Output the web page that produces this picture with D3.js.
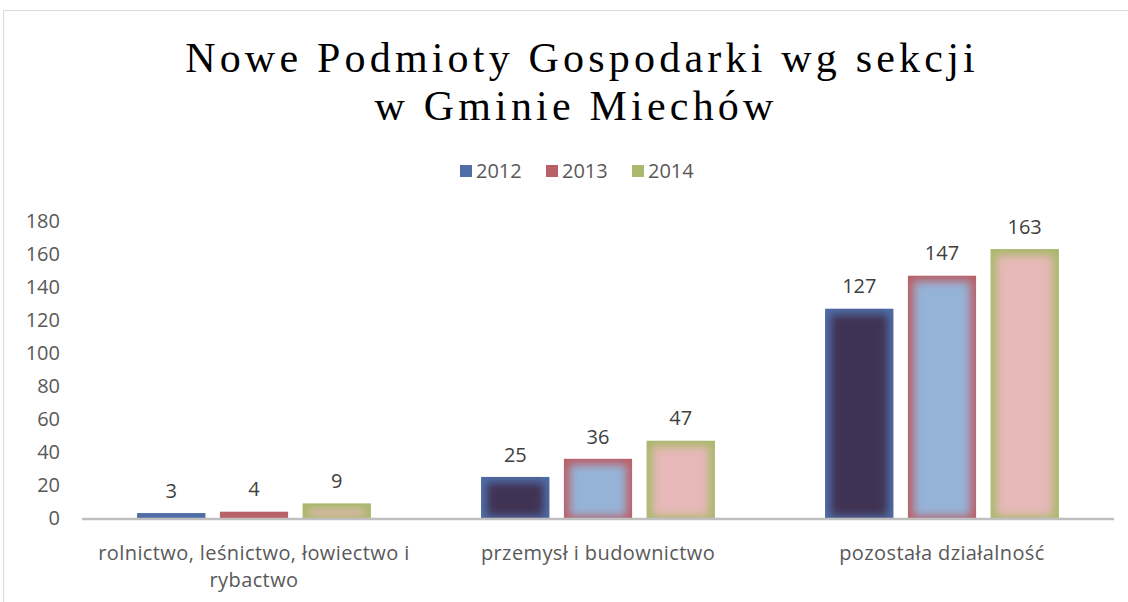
<!DOCTYPE html>
<html>
<head>
<meta charset="utf-8">
<script src="https://cdn.jsdelivr.net/npm/d3@7"></script>
<style>
  body { margin: 0; background: #fff; }
  svg text { font-family: "Open Sans", "Noto Sans", sans-serif; }
</style>
</head>
<body>
<svg id="chart" width="1128" height="602"></svg>
<script>
// dane
const categories = ["rolnictwo, leśnictwo, łowiectwo i rybactwo", "przemysł i budownictwo", "pozostała działalność"];
const categoryLines = [["rolnictwo, leśnictwo, łowiectwo i", "rybactwo"], ["przemysł i budownictwo"], ["pozostała działalność"]];
const years = ["2012", "2013", "2014"];
const values2012 = [3, 25, 127];
const values2013 = [4, 36, 147];
const values2014 = [9, 47, 163];
const yTicks = [0, 20, 40, 60, 80, 100, 120, 140, 160, 180];

// kolory: krawedz (legenda) + wnetrze slupka
const edgeColors = ["#4F6EA8", "#BA6068", "#A9B86C"];
const innerColors = ["#3F3152", "#95B3D7", "#E6B8B7"];

const series = [values2012, values2013, values2014];

const fontSize = '20px';
const labelFont = '"Open Sans", "Noto Sans", sans-serif';

const margin = { top: 221, right: 14, bottom: 84, left: 82 };
const width = 1128 - margin.left - margin.right;
const height = 602 - margin.top - margin.bottom;

const svg = d3.select('#chart');

// ramka wykresu
svg.append('rect')
  .attr('x', 3.5).attr('y', 10.5)
  .attr('width', 1140).attr('height', 600)
  .attr('fill', 'none')
  .attr('stroke', '#D9D9D9')
  .attr('stroke-width', 1);

// tytul
const title = svg.append('text')
  .attr('text-anchor', 'middle')
  .style('font-family', '"Liberation Serif", "Times New Roman", serif')
  .style('font-size', '42px')
  .style('letter-spacing', '4.2px')
  .attr('fill', '#000');
title.append('tspan').attr('x', 582).attr('y', 72).text('Nowe Podmioty Gospodarki wg sekcji');
title.append('tspan').attr('x', 576).attr('y', 120).text('w Gminie Miechów');

// legenda
const legend = svg.append('g').attr('transform', 'translate(460,171)');
const legItem = legend.selectAll('g').data(years).enter().append('g')
  .attr('transform', (d, i) => `translate(${i * 86},0)`);
legItem.append('rect')
  .attr('x', 0).attr('y', -6).attr('width', 12).attr('height', 12)
  .attr('fill', (d, i) => edgeColors[i]);
legItem.append('text')
  .attr('x', 16).attr('y', 0).attr('dy', '0.35em')
  .attr('fill', '#595959')
  .style('font-size', fontSize)
  .text(d => d);

const g = svg.append('g').attr('transform', `translate(${margin.left},${margin.top})`);

const x0 = d3.scaleBand().domain(categories).range([0, width]).paddingInner(0.32).paddingOuter(0.16);
const x1 = d3.scaleBand().domain(years).range([0, x0.bandwidth()]).paddingInner(0.17);
const y = d3.scaleLinear().domain([0, 180]).range([height, 0]);

// os Y (tylko etykiety)
const yAxis = g.append('g')
  .call(d3.axisLeft(y).tickValues(yTicks).tickSize(0).tickPadding(22));
yAxis.select('.domain').remove();
yAxis.selectAll('text')
  .attr('fill', '#595959')
  .style('font-size', fontSize)
  .style('font-family', labelFont);

// filtr rozmycia dla "poswiaty"
const defs = svg.append('defs');
defs.append('filter').attr('id', 'soft')
  .attr('x', '-50%').attr('y', '-50%').attr('width', '200%').attr('height', '200%')
  .append('feGaussianBlur').attr('stdDeviation', 4.5);

const rows = [];
categories.forEach((c, ci) => {
  years.forEach((yr, si) => {
    rows.push({ cat: c, year: yr, si: si, ci: ci, value: series[si][ci] });
  });
});

rows.forEach((d, i) => {
  defs.append('clipPath').attr('id', 'clip' + i)
    .append('rect')
    .attr('x', x0(d.cat) + x1(d.year))
    .attr('y', y(d.value))
    .attr('width', x1.bandwidth())
    .attr('height', height - y(d.value));
});

const bars = g.selectAll('.bar').data(rows).enter().append('g')
  .attr('class', 'bar')
  .attr('clip-path', (d, i) => `url(#clip${i})`);

bars.append('rect')
  .attr('x', d => x0(d.cat) + x1(d.year))
  .attr('y', d => y(d.value))
  .attr('width', x1.bandwidth())
  .attr('height', d => height - y(d.value))
  .attr('fill', d => edgeColors[d.si]);

const inset = 6;
bars.filter(d => height - y(d.value) > 2 * inset - 4)
  .append('rect')
  .attr('x', d => x0(d.cat) + x1(d.year) + inset)
  .attr('y', d => y(d.value) + inset)
  .attr('width', x1.bandwidth() - 2 * inset)
  .attr('height', d => Math.max(1, height - y(d.value) - 2 * inset + 4))
  .attr('fill', d => innerColors[d.si])
  .attr('filter', 'url(#soft)');

// etykiety wartosci
g.selectAll('.val').data(rows).enter().append('text')
  .attr('class', 'val')
  .attr('x', d => x0(d.cat) + x1(d.year) + x1.bandwidth() / 2)
  .attr('y', d => y(d.value) - 15)
  .attr('text-anchor', 'middle')
  .attr('fill', '#404040')
  .style('font-size', fontSize)
  .text(d => d.value);

// os X
g.append('line')
  .attr('x1', 0).attr('x2', width)
  .attr('y1', height + 1).attr('y2', height + 1)
  .attr('stroke', '#BFBFBF')
  .attr('stroke-width', 2.5);

const catLabels = g.selectAll('.cat').data(categories).enter().append('text')
  .attr('class', 'cat')
  .attr('text-anchor', 'middle')
  .attr('fill', '#595959')
  .style('font-size', fontSize)
  .style('letter-spacing', '0.4px');
catLabels.each(function (d, i) {
  const t = d3.select(this);
  categoryLines[i].forEach((line, li) => {
    t.append('tspan')
      .attr('x', x0(d) + x0.bandwidth() / 2)
      .attr('y', height + 42 + li * 27)
      .text(line);
  });
});
</script>
</body>
</html>
